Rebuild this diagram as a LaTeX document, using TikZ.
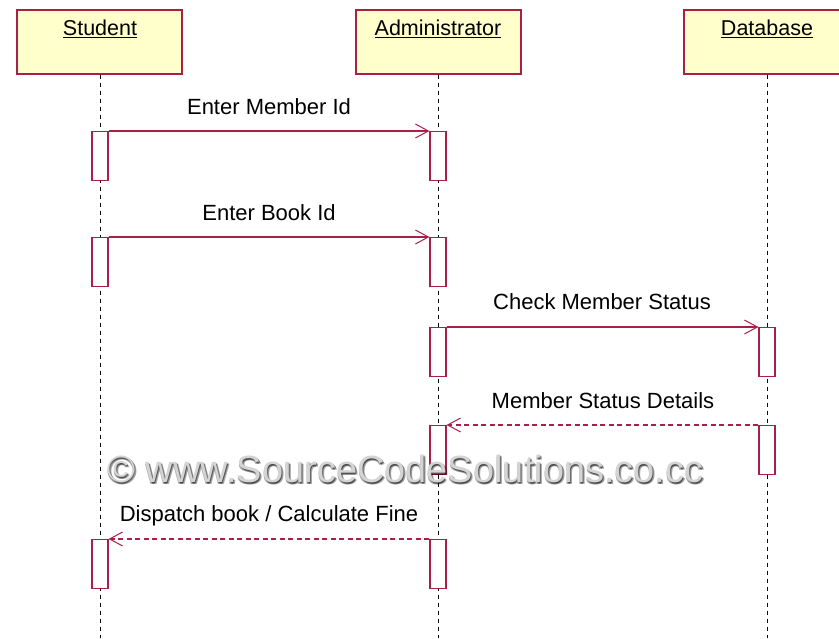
\documentclass[tikz,border=0pt]{standalone}
\usepackage{fontspec}
\setmainfont{Liberation Sans}
\usetikzlibrary{arrows.meta}
\definecolor{umlline}{RGB}{168,32,72}
\definecolor{umlfill}{RGB}{255,255,204}
\definecolor{marktext}{RGB}{212,212,212}
\tikzset{
  x=1pt, y=-1pt,
  actor/.style={draw=umlline, fill=umlfill, line width=1.3pt, minimum width=165pt, minimum height=64pt, inner sep=0pt},
  actorname/.style={font=\fontsize{21.5}{24}\selectfont, inner sep=0pt},
  lifeline/.style={draw=black, dash pattern=on 4pt off 4pt, line width=1pt},
  activation/.style={draw=umlline, fill=white, line width=1.1pt, minimum width=16pt, minimum height=49pt, inner sep=0pt},
  call/.style={draw=umlline, line width=1.1pt, -{Straight Barb[length=13pt,width=14pt,line width=1pt]}},
  reply/.style={call, dash pattern=on 5pt off 3.5pt},
  msg/.style={font=\fontsize{22}{24}\selectfont, inner sep=0pt},
  marktxt/.style={font=\fontsize{38}{42}\selectfont, inner sep=0pt},
  markshade/.style={marktxt, text=black, opacity=0.35}
}
\begin{document}
\begin{tikzpicture}
\useasboundingbox (0,0) rectangle (839,638);
\fill[white] (0,0) rectangle (839,638);

% lifeline ends
\coordinate (sb) at (100,638);
\coordinate (ab) at (438,638);
\coordinate (db) at (767,638);

% actor heads
\node[actor] (student) at (99.5,42) {};
\node[actor] (admin) at (438.5,42) {};
\node[actor] (dbase) at (766.5,42) {};
\node[actorname] at (100,29) {\underline{Student}};
\node[actorname] at (438,29) {\underline{Administrator}};
\node[actorname] at (767,29) {\underline{Database}};

\draw[lifeline] (student.south -| sb) -- (sb);
\draw[lifeline] (admin.south -| ab) -- (ab);
\draw[lifeline] (dbase.south -| db) -- (db);

% activation bars
\node[activation, anchor=north] (s1) at (100,131) {};
\node[activation, anchor=north] (a1) at (438,131) {};
\node[activation, anchor=north] (s2) at (100,237) {};
\node[activation, anchor=north] (a2) at (438,237) {};
\node[activation, anchor=north] (a3) at (438,327) {};
\node[activation, anchor=north] (d3) at (767,327) {};
\node[activation, anchor=north] (a4) at (438,425) {};
\node[activation, anchor=north] (d4) at (767,425) {};
\node[activation, anchor=north] (s5) at (100,539) {};
\node[activation, anchor=north] (a5) at (438,539) {};

% messages
\draw[call] (s1.north east) -- (a1.north west);
\node[msg] at (269,107) {Enter Member Id};
\draw[call] (s2.north east) -- (a2.north west);
\node[msg] at (269,213) {Enter Book Id};
\draw[call] (a3.north east) -- (d3.north west);
\node[msg] at (602,302) {Check Member Status};
\draw[reply] (d4.north west) -- (a4.north east);
\node[msg] at (603,401) {Member Status Details};
\draw[reply] (a5.north west) -- (s5.north east);
\node[msg] at (269,516) {Dispatch book / Calculate Fine};

% copyright mark with soft drop shadow
\node[markshade] (shade1) at (407.5,471) {© www.SourceCodeSolutions.co.cc};
\node[markshade] (shade2) at (406.5,470) {© www.SourceCodeSolutions.co.cc};
\node[markshade] (shade3) at (405.5,471) {© www.SourceCodeSolutions.co.cc};
\node[marktxt, text=marktext] (mark) at (405.5,469) {© www.SourceCodeSolutions.co.cc};
\end{tikzpicture}
\end{document}
